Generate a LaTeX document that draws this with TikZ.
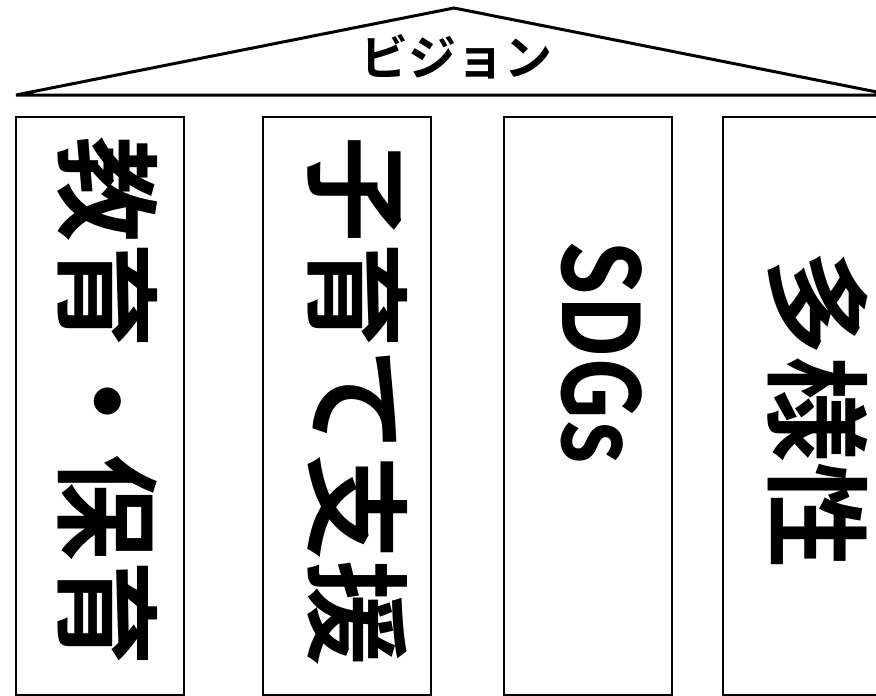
\documentclass[tikz,border=0pt]{standalone}
\usepackage{fontspec}
\newfontfamily\jpfont{Noto Sans CJK JP Bold}

\begin{document}
\begin{tikzpicture}[x=1pt, y=-1pt,
        pillar/.style={draw, line width=1.5pt, minimum width=168pt, minimum height=578pt, inner sep=0pt},
        pillartext/.style={rotate=-90, anchor=base west, inner sep=0pt, font=\jpfont\fontsize{106}{106}\selectfont}]
    \clip (0,0) rectangle (876,696);

    % roof
    \coordinate (roofleft) at (16,95);
    \coordinate (apex) at (454,8);
    \coordinate (roofright) at (892,95);
    \draw[line width=3pt] (roofleft) -- (apex) -- (roofright) -- cycle;
    \node[font=\jpfont\fontsize{48}{48}\selectfont] (vision) at (456,57) {ビジョン};

    % pillars
    \node[pillar] (kyoiku) at (100,406) {};
    \node[pillar] (kosodate) at (347,406) {};
    \node[pillar] (sdgs) at (588,406) {};
    \node[pillar] (tayosei) at (807,406) {};

    \node[pillartext] (kyoikutext) at (67,136) {教育・保育};
    \node[pillartext] (kosodatetext) at (317,136) {子育て支援};
    \node[pillartext, xscale=0.83] (sdgstext) at (562,240) {SDGs};
    \node[pillartext] (tayoseitext) at (777,250) {多様性};
\end{tikzpicture}
\end{document}
